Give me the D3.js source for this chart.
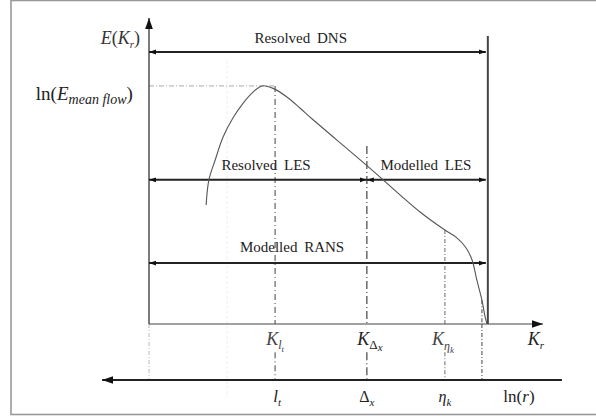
<!DOCTYPE html>
<html><head><meta charset="utf-8">
<script src="https://cdn.jsdelivr.net/npm/d3@7"></script>
<style>
html,body{margin:0;padding:0;background:#fff;}
</style></head>
<body><svg id="c" width="596" height="418"></svg>
<script>
// spectrum curve: x = ln(K_r) (arbitrary units 0..100), y = ln E (arbitrary 0..100)
const curveX = [14.5,15.2,16.8,18.8,21.3,23.9,26.4,28.7,31.5,35.0,38.3,41.5,55.1,68.8,75.1,78.0,80.4,82.0,83.2,84.5,85.3,85.8];
const curveY = [38.9,47.1,53.6,61.1,67.3,72.2,75.8,77.8,77.0,74.2,70.6,66.9,52.0,36.6,30.7,28.3,25.0,20.9,14.4,7.8,2.3,0];
// characteristic positions on the K_r axis
const markX = [32.0,55.3,75.1,84.5];
const markTop = [77.8,58.2,30.7,7.8];
const peakLevel = 77.8;
const dnsX = 86.0;
// range arrows
const rangeNames = ["Resolved DNS","Resolved LES","Modelled LES","Modelled RANS"];
const rangeFrom = [0,0,55.3,0];
const rangeTo = [85.5,55.3,85.5,85.5];
const rangeY = [88.9,47.1,47.1,19.9];
const rangeLabelX = [38.5,29.7,70.3,36.3];
const rangeLabelY = [91.8,50.3,50.3,23.5];

const FONT = "'Liberation Serif', 'DejaVu Serif', serif";
const svg = d3.select("#c").attr("font-family", FONT);
const x = d3.scaleLinear().domain([0,100]).range([149,543]);
const y = d3.scaleLinear().domain([0,100]).range([324,18]);

// frame
svg.append("rect").attr("x",11).attr("y",0.5).attr("width",600).attr("height",414)
  .attr("fill","none").attr("stroke","#999").attr("stroke-width",1.6);

const defs = svg.append("defs");
function mk(id, dir, size){
  const m = defs.append("marker").attr("id",id).attr("viewBox","0 0 10 10")
    .attr("refX", dir>0?10:0).attr("refY",5).attr("markerWidth",size).attr("markerHeight",size)
    .attr("markerUnits","userSpaceOnUse").attr("orient","auto");
  m.append("path").attr("d", dir>0?"M0,1.5L10,5L0,8.5Z":"M10,1.5L0,5L10,8.5Z").attr("fill","#111");
}
mk("ae",1,7); mk("as",-1,7); mk("big",1,11);

// faint background vertical
svg.append("line").attr("x1",x(19.8)).attr("x2",x(19.8)).attr("y1",y(86)).attr("y2",y(-24))
  .attr("stroke","#eee").attr("stroke-width",1).attr("stroke-dasharray","3,2");

// peak dotted horizontal
svg.append("line").attr("x1",x(0)).attr("x2",x(markX[0])).attr("y1",y(peakLevel)).attr("y2",y(peakLevel))
  .attr("stroke","#aaa").attr("stroke-width",1).attr("stroke-dasharray","5,2,1,2");

// characteristic vertical lines
const dashes = ["6,3,1,3","8,3,1,3","4,2,1,2","4,2,1,2"];
const cols = ["#555","#333","#777","#555"];
markX.forEach((v,i)=>{
  svg.append("line").attr("x1",x(v)).attr("x2",x(v)).attr("y1",y(markTop[i])).attr("y2",y(0))
    .attr("stroke",cols[i]).attr("stroke-width",1.1).attr("stroke-dasharray",dashes[i]);
  const top = i===3 ? y(0) : y(-9.2);
  svg.append("line").attr("x1",x(v)).attr("x2",x(v)).attr("y1",top).attr("y2",y(-18.3))
    .attr("stroke",cols[i]).attr("stroke-width",1.1).attr("stroke-dasharray",dashes[i]);
});
svg.append("line").attr("x1",x(0)).attr("x2",x(0)).attr("y1",y(0)).attr("y2",y(-18.3))
  .attr("stroke","#bbb").attr("stroke-width",1).attr("stroke-dasharray","4,2,1,2");

// axes
svg.append("line").attr("x1",x(0)).attr("x2",x(0)).attr("y1",y(0)).attr("y2",y(100))
  .attr("stroke","#444").attr("stroke-width",1.4).attr("marker-end","url(#big)");
svg.append("line").attr("x1",x(0)).attr("x2",x(100)).attr("y1",y(0)).attr("y2",y(0))
  .attr("stroke","#444").attr("stroke-width",1.2).attr("marker-end","url(#big)");
svg.append("line").attr("x1",x(104.8)).attr("x2",x(-11.9)).attr("y1",y(-18.3)).attr("y2",y(-18.3))
  .attr("stroke","#222").attr("stroke-width",2).attr("marker-end","url(#big)");
svg.append("line").attr("x1",x(dnsX)).attr("x2",x(dnsX)).attr("y1",y(94.1)).attr("y2",y(0))
  .attr("stroke","#444").attr("stroke-width",2);

// range arrows
rangeNames.forEach((n,i)=>{
  svg.append("line").attr("x1",x(rangeFrom[i])).attr("x2",x(rangeTo[i]))
    .attr("y1",y(rangeY[i])).attr("y2",y(rangeY[i]))
    .attr("stroke","#222").attr("stroke-width",2)
    .attr("marker-start","url(#as)").attr("marker-end","url(#ae)");
  svg.append("text").attr("x",x(rangeLabelX[i])).attr("y",y(rangeLabelY[i]))
    .attr("font-family",FONT).attr("fill","#222")
    .attr("text-anchor","middle").attr("font-size",15).attr("word-spacing",3).text(n);
});

// spectrum curve
const pts = curveX.map((v,i)=>[x(v),y(curveY[i])]);
svg.append("path").attr("d", d3.line().curve(d3.curveCatmullRom.alpha(0.5))(pts))
  .attr("fill","none").attr("stroke","#555").attr("stroke-width",1.1);

// math labels
function lab(px,py,anchor,parts,size,col){
  const t = svg.append("text").attr("x",px).attr("y",py).attr("text-anchor",anchor)
    .attr("font-size",size).attr("font-family",FONT).attr("fill",col||"#222");
  parts.forEach(p=>{
    const s = t.append("tspan").text(p.t);
    if(p.i) s.attr("font-style","italic");
    if(p.dy) s.attr("dy",p.dy);
    if(p.fs) s.attr("font-size",p.fs);
  });
  return t;
}
lab(x(-2.3),y(91.5),"end",[{t:"E",i:1},{t:"("},{t:"K",i:1},{t:"r",i:1,fs:11,dy:4},{t:")",dy:-4}],18,"#333");
lab(x(-4.1),y(73.2),"end",[{t:"ln("},{t:"E",i:1},{t:"mean flow",i:1,fs:14,dy:4},{t:")",dy:-4}],19);

const kY = y(-6.9), bY = y(-25.5);
lab(x(markX[0]),kY,"middle",[{t:"K",i:1},{t:"l",i:1,fs:12,dy:4},{t:"t",i:1,fs:9,dy:3},{t:" ",dy:-7}],18,"#444");
lab(x(markX[1])+3,kY,"middle",[{t:"K",i:1},{t:"Δ",fs:13,dy:4},{t:"x",i:1,fs:11,dy:2},{t:" ",dy:-6}],18);
lab(x(markX[2])-2,kY,"middle",[{t:"K",i:1},{t:"η",i:1,fs:12,dy:5},{t:"k",i:1,fs:9,dy:3},{t:" ",dy:-8}],18,"#444");
lab(x(100)-7,kY,"middle",[{t:"K",i:1},{t:"r",i:1,fs:11,dy:4},{t:" ",dy:-4}],18);

lab(x(markX[0])+2,bY,"middle",[{t:"l",i:1},{t:"t",i:1,fs:11,dy:4}],17);
lab(x(markX[1]),bY,"middle",[{t:"Δ"},{t:"x",i:1,fs:11,dy:4}],16);
lab(x(markX[2]),bY,"middle",[{t:"η",i:1},{t:"k",i:1,fs:11,dy:4}],16);
lab(x(93.9),bY,"middle",[{t:"ln("},{t:"r",i:1},{t:")"}],17);
</script></body></html>
